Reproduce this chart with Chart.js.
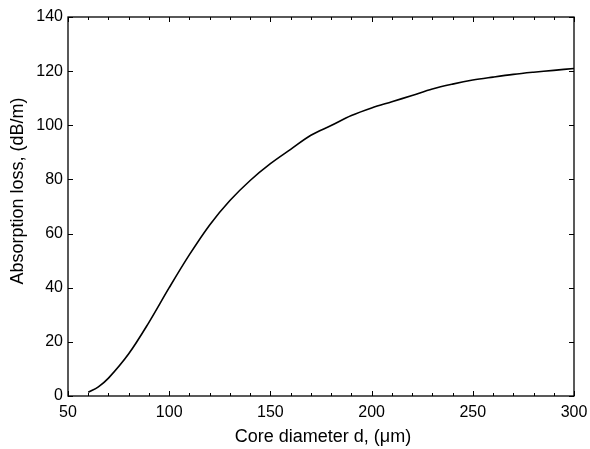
<!DOCTYPE html>
<html>
<head>
<meta charset="utf-8">
<script src="https://cdn.jsdelivr.net/npm/chart.js@4.4.0/dist/chart.umd.min.js"></script>
<style>
  html, body { margin: 0; padding: 0; background: #fff; }
  #wrap { width: 590px; height: 449px; }
</style>
</head>
<body>
<div id="wrap"><canvas id="chart" width="590" height="449"></canvas></div>
<script>
// values
const coreDiameter = [60, 65, 70, 80, 90, 100, 110, 120, 130, 140, 150, 160, 170, 180, 190, 200, 210, 220, 230, 240, 250, 260, 270, 280, 290, 300];
const absorptionLoss = [1.4, 3.4, 6.6, 15.6, 27.2, 40.0, 52.2, 63.2, 72.2, 79.6, 85.8, 91.1, 96.3, 99.9, 103.6, 106.4, 108.7, 111.0, 113.4, 115.2, 116.7, 117.8, 118.8, 119.6, 120.3, 121.0];

const xTitle = 'Core diameter d, (\u03bcm)';
const yTitle = 'Absorption loss, (dB/m)';
const FONT = "'Liberation Sans', Arial, sans-serif";

// MATLAB style box with inward ticks on all four sides
const boxPlugin = {
  id: 'box',
  afterDraw(chart) {
    const { ctx, chartArea: a, scales: { x, y } } = chart;
    ctx.save();
    ctx.strokeStyle = '#000';
    ctx.lineWidth = 1.3;
    ctx.strokeRect(a.left, a.top, a.right - a.left, a.bottom - a.top);

    ctx.beginPath();
    x.ticks.forEach(t => {
      const px = Math.round(x.getPixelForValue(t.value)) + 0.5;
      const len = t.value % 50 === 0 ? 5 : 3;
      ctx.moveTo(px, a.bottom); ctx.lineTo(px, a.bottom - len);
      ctx.moveTo(px, a.top); ctx.lineTo(px, a.top + len);
    });
    y.ticks.forEach(t => {
      const py = Math.round(y.getPixelForValue(t.value)) + 0.5;
      ctx.moveTo(a.left, py); ctx.lineTo(a.left + 5, py);
      ctx.moveTo(a.right, py); ctx.lineTo(a.right - 5, py);
    });
    ctx.lineWidth = 1;
    ctx.stroke();

    ctx.fillStyle = '#000';
    ctx.font = '18px ' + FONT;
    ctx.textAlign = 'center';
    ctx.textBaseline = 'middle';
    ctx.fillText(xTitle, (a.left + a.right) / 2 + 2, 437);
    ctx.translate(18, 191);
    ctx.rotate(-Math.PI / 2);
    ctx.fillText(yTitle, 0, 0);
    ctx.restore();
  }
};

new Chart(document.getElementById('chart'), {
  type: 'line',
  data: {
    datasets: [{
      data: coreDiameter.map((d, i) => ({ x: d, y: absorptionLoss[i] })),
      borderColor: '#000',
      borderWidth: 1.6,
      pointRadius: 0,
      tension: 0.35,
      fill: false,
    }],
  },
  options: {
    responsive: false,
    animation: false,
    layout: { padding: { left: 0, top: 17, right: 16, bottom: 0 } },
    plugins: {
      legend: { display: false },
      tooltip: { enabled: false },
    },
    scales: {
      x: {
        type: 'linear',
        min: 50,
        max: 300,
        grid: { display: false, drawTicks: false, tickLength: 0 },
        border: { display: false },
        afterFit: (scale) => {
          scale.height = 53;
          scale.paddingLeft = 0;
          scale.paddingRight = 0;
        },
        ticks: {
          stepSize: 10,
          autoSkip: false,
          maxRotation: 0,
          padding: 7,
          color: '#000',
          font: { family: FONT, size: 16 },
          callback: (v) => (v % 50 === 0 ? v : ''),
        },
      },
      y: {
        min: 0,
        max: 140,
        grid: { display: false, drawTicks: false, tickLength: 0 },
        border: { display: false },
        afterFit: (scale) => { scale.width = 68; },
        ticks: {
          stepSize: 20,
          padding: 5,
          color: '#000',
          font: { family: FONT, size: 16 },
        },
      },
    },
  },
  plugins: [boxPlugin],
});
</script>
</body>
</html>
